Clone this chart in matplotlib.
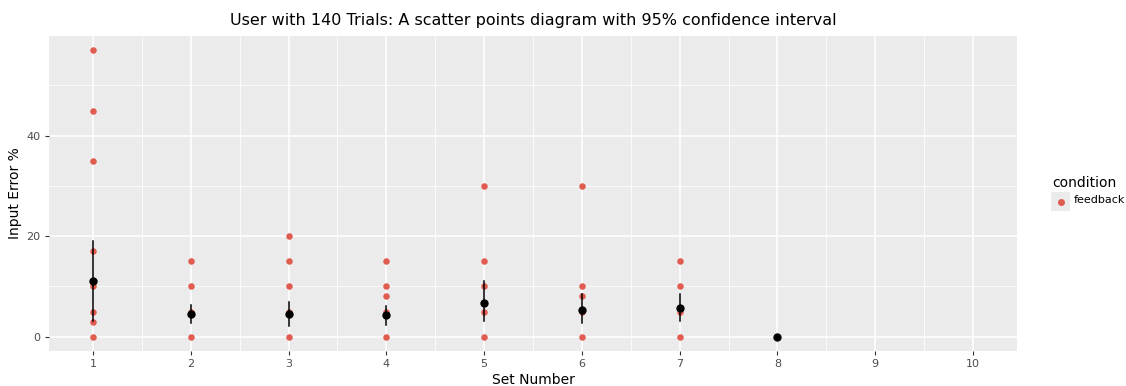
import numpy as np
import matplotlib
matplotlib.use('Agg')
from matplotlib import pyplot as plt
from matplotlib.patches import Rectangle
from matplotlib.lines import Line2D

# raw trial errors per set
set_numbers = [1, 2, 3, 4, 5, 6, 7, 8]
errors_per_set = [
    [57, 45, 35, 17, 10, 5, 3, 0],
    [15, 10, 5, 0],
    [20, 15, 10, 5, 0],
    [15, 10, 8, 5, 0],
    [30, 15, 10, 5, 0],
    [30, 10, 8, 5, 0],
    [15, 10, 5, 0],
    [0],
]
# mean and 95% confidence interval per set
mean_error = [11.1, 4.5, 4.5, 4.4, 6.8, 5.3, 5.8, 0.0]
ci_low = [3.1, 2.7, 2.2, 2.4, 3.2, 2.8, 3.2, 0.0]
ci_high = [19.1, 6.4, 6.9, 6.2, 11.1, 8.5, 8.4, 0.0]

x_ticks = list(range(1, 11))
y_ticks = [0, 20, 40]
condition = 'feedback'

red = '#E05C50'
W, H = 1126, 386

fig = plt.figure(figsize=(W / 100, H / 100), dpi=100)
ax = fig.add_axes([0.0435, 0.0907, 0.8597, 0.816])

ax.set_facecolor('#EBEBEB')
for s in ax.spines.values():
    s.set_visible(False)

xs, ys = [], []
for n, errs in zip(set_numbers, errors_per_set):
    xs += [n] * len(errs)
    ys += errs
ax.scatter(xs, ys, s=22, color=red, linewidths=0, zorder=3)

for n, lo, hi in zip(set_numbers, ci_low, ci_high):
    if hi > lo:
        ax.plot([n, n], [lo, hi], color='black', lw=1.1, zorder=4)
ax.scatter(set_numbers, mean_error, s=36, color='black', linewidths=0, zorder=5)

ax.set_xlim(0.55, 10.45)
ax.set_ylim(-2.85, 59.85)
ax.set_xticks(x_ticks)
ax.set_yticks(y_ticks)
ax.set_xticks(np.arange(1.5, 10, 1), minor=True)
ax.set_yticks([10, 30, 50], minor=True)
ax.grid(which='major', color='white', lw=1.1)
ax.grid(which='minor', color='white', lw=0.55)
ax.set_axisbelow(True)
ax.tick_params(which='major', length=3, color='#333333', labelsize=8,
               labelcolor='#4D4D4D', pad=3)
ax.tick_params(which='minor', length=0)

ax.set_xlabel('Set Number', fontsize=10, labelpad=3)
ax.set_ylabel('Input Error %', fontsize=10, labelpad=3)
ax.set_title('User with 140 Trials: A scatter points diagram with 95% confidence interval',
             fontsize=11.5, pad=8)

# ggplot-style legend, built by hand
fig.text(1052 / W, 1 - 183 / H, 'condition', fontsize=10, ha='left', va='center')
fig.patches.append(Rectangle((1051 / W, 1 - 211 / H), 19 / W, 19 / H,
                             transform=fig.transFigure, facecolor='#EBEBEB',
                             edgecolor='none'))
fig.lines.append(Line2D([1060.5 / W], [1 - 201.5 / H], transform=fig.transFigure,
                        marker='o', markersize=4, color=red, linestyle='none'))
fig.text(1074 / W, 1 - 200 / H, condition, fontsize=8, ha='left', va='center')

fig.savefig('out.png', dpi=100)
plt.close(fig)
